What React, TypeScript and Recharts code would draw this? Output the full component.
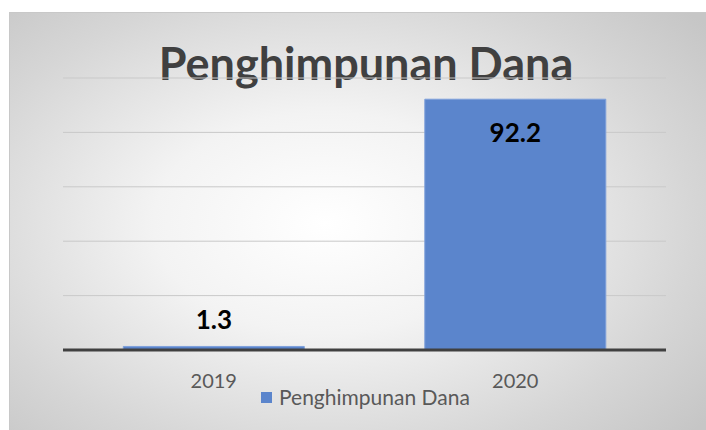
import React from "react";
import { BarChart, Bar, XAxis, YAxis, CartesianGrid, LabelList } from "recharts";

const categories = ["2019", "2020"];
const seriesName = "Penghimpunan Dana";
const values = [1.3, 92.2];
const yTicks = [0, 20, 40, 60, 80, 100];

const data = categories.map((c, i) => ({ year: c, value: values[i] }));

const FONT = "Lato, 'Open Sans', sans-serif";
const BAR_COLOR = "#5b85cc";

const renderLabel = (props: any) => {
  const { x, y, width, height, value } = props;
  const cx = Number(x) + Number(width) / 2;
  const inside = Number(height) > 40;
  const ty = inside ? Number(y) + 43 : Number(y) - 17;
  return (
    <text
      x={cx}
      y={ty}
      textAnchor="middle"
      fontFamily={FONT}
      fontWeight={700}
      fontSize={26}
      fill="#000000"
    >
      {value}
    </text>
  );
};

export default function App() {
  return (
    <div style={{ position: "absolute", left: 0, top: 0, width: 706, height: 430, background: "#ffffff", overflow: "hidden" }}>
      <div
        style={{
          position: "absolute",
          left: 9,
          top: 12,
          width: 700,
          height: 420,
          border: "1px solid #c8c8c8",
          background:
            "radial-gradient(ellipse 70% 75% at 45% 50%, #ffffff 0%, #f3f3f3 35%, #d6d6d6 75%, #c6c6c6 100%)",
        }}
      />
      <div
        style={{
          position: "absolute",
          left: 0,
          top: 37,
          width: 732,
          textAlign: "center",
          fontFamily: FONT,
          fontWeight: 700,
          fontSize: 45,
          lineHeight: "52px",
          color: "#404040",
        }}
      >
        {seriesName}
      </div>
      <div style={{ position: "absolute", left: 0, top: 0 }}>
        <BarChart
          width={706}
          height={430}
          data={data}
          margin={{ top: 78, right: 40, bottom: 50, left: 63 }}
          barCategoryGap="20%"
        >
          <CartesianGrid horizontal vertical={false} stroke="#c9c9c9" strokeWidth={1} />
          <YAxis hide width={0} domain={[0, 100]} ticks={yTicks} />
          <XAxis
            dataKey="year"
            height={30}
            axisLine={{ stroke: "#404040", strokeWidth: 3 }}
            tickLine={false}
            tick={{ fontFamily: FONT, fontSize: 20, fill: "#595959" }}
            tickMargin={18}
          />
          <Bar
            dataKey="value"
            name={seriesName}
            fill={BAR_COLOR}
            stroke="#7fa0db"
            strokeWidth={1}
            isAnimationActive={false}
          >
            <LabelList dataKey="value" content={renderLabel} />
          </Bar>
        </BarChart>
      </div>
      <div
        style={{
          position: "absolute",
          left: 261,
          top: 384,
          display: "flex",
          alignItems: "center",
          fontFamily: FONT,
          fontSize: 21,
          lineHeight: "26px",
          color: "#595959",
        }}
      >
        <span style={{ display: "inline-block", width: 11, height: 11, background: BAR_COLOR, marginRight: 7 }} />
        <span>{seriesName}</span>
      </div>
    </div>
  );
}
